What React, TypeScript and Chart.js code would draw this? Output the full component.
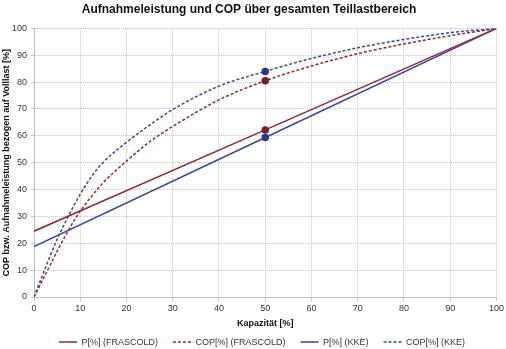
import React, { useEffect, useRef } from 'react';
import { Chart, registerables } from 'chart.js';

Chart.register(...registerables);

const FONT = "'Liberation Sans', Arial, sans-serif";

const TITLE = 'Aufnahmeleistung und COP über gesamten Teillastbereich';
const Y_TITLE = 'COP bzw. Aufnahmeleistung bezogen auf Volllast [%]';
const X_TITLE = 'Kapazität [%]';

const SERIES_NAMES = ['P[%] (FRASCOLD)', 'COP[%] (FRASCOLD)', 'P[%] (KKE)', 'COP[%] (KKE)'];

// P lines (straight)
const pCapacity = [0, 50, 100];
const pFrascold = [24.5, 62.2, 100];
const pKke = [18.8, 59.4, 100];

// COP curves
const copCapacity = [0, 2.5, 5, 7.5, 10, 12.5, 15, 20, 25, 30, 40, 50, 60, 70, 80, 90, 100];
const copFrascold = [0, 8.5, 17, 25, 32, 37.6, 42.6, 50.6, 57.8, 63.5, 73.4, 80.5, 86, 90.6, 94.2, 97.3, 100];
const copKke = [0, 11, 21.5, 30.3, 38.3, 45, 50.2, 57.6, 64, 69.8, 78.5, 84, 88.8, 92.8, 95.9, 98.4, 100];

const MARK_X = 50;

const RED = '#8E2C3E';
const RED_DOT = '#7A1E2E';
const BLUE = '#3B479C';
const BLUE_DOT = '#2A3A8A';

const toXY = (xs: number[], ys: number[]) => xs.map((x, i) => ({ x, y: ys[i] }));

const shiftLegend = {
  id: 'shiftLegend',
  afterLayout(chart: any) {
    const lg = chart.legend;
    if (!lg) return;
    const dx = 13;
    const dy = -6;
    lg.left += dx;
    lg.right += dx;
    lg.top += dy;
    lg.bottom += dy;
  },
};

export default function App() {
  const ref = useRef<HTMLCanvasElement>(null);

  useEffect(() => {
    if (!ref.current) return;
    const radius = (ctx: any) => (ctx.raw && ctx.raw.x === MARK_X ? 3 : 0);
    const chart = new Chart(ref.current, {
      type: 'line',
      data: {
        datasets: [
          {
            label: SERIES_NAMES[0],
            data: toXY(pCapacity, pFrascold),
            borderColor: RED,
            backgroundColor: RED_DOT,
            pointBackgroundColor: RED_DOT,
            pointBorderColor: RED_DOT,
            borderWidth: 1.5,
            pointRadius: radius,
            tension: 0,
          },
          {
            label: SERIES_NAMES[1],
            data: toXY(copCapacity, copFrascold),
            borderColor: RED,
            backgroundColor: RED_DOT,
            pointBackgroundColor: RED_DOT,
            pointBorderColor: RED_DOT,
            borderWidth: 1.5,
            borderDash: [3, 2],
            pointRadius: radius,
            cubicInterpolationMode: 'monotone',
          },
          {
            label: SERIES_NAMES[2],
            data: toXY(pCapacity, pKke),
            borderColor: BLUE,
            backgroundColor: BLUE_DOT,
            pointBackgroundColor: BLUE_DOT,
            pointBorderColor: BLUE_DOT,
            borderWidth: 1.5,
            pointRadius: radius,
            tension: 0,
          },
          {
            label: SERIES_NAMES[3],
            data: toXY(copCapacity, copKke),
            borderColor: BLUE,
            backgroundColor: BLUE_DOT,
            pointBackgroundColor: BLUE_DOT,
            pointBorderColor: BLUE_DOT,
            borderWidth: 1.5,
            borderDash: [3, 2],
            pointRadius: radius,
            cubicInterpolationMode: 'monotone',
          },
        ],
      },
      options: {
        animation: false,
        responsive: true,
        maintainAspectRatio: false,
        layout: { padding: { left: 0, right: 8, top: 0, bottom: -13.6 } },
        plugins: {
          title: {
            display: true,
            text: TITLE,
            color: '#111',
            font: { family: FONT, size: 12, weight: 'bold' },
            padding: { top: 2, bottom: 12 },
          },
          legend: {
            position: 'bottom',
            labels: {
              usePointStyle: true,
              pointStyle: 'line',
              pointStyleWidth: 18,
              color: '#333',
              font: { family: FONT, size: 9 },
              padding: 15,
              generateLabels: (chart: any) => {
                const items = Chart.defaults.plugins.legend.labels.generateLabels(chart);
                return items.map((it: any) => {
                  const ds = chart.data.datasets[it.datasetIndex];
                  return {
                    ...it,
                    lineDash: ds.borderDash || [],
                    strokeStyle: ds.borderColor,
                    lineWidth: 1.5,
                  };
                });
              },
            },
          },
          tooltip: { enabled: false },
        },
        scales: {
          x: {
            type: 'linear',
            min: 0,
            max: 100,
            ticks: {
              stepSize: 10,
              color: '#333',
              font: { family: FONT, size: 9 },
              padding: 2,
            },
            grid: {
              color: '#c4c4c4',
              lineWidth: 1,
              tickLength: 4,
              tickColor: '#bfbfbf',
            },
            border: { display: true, color: '#bfbfbf', width: 1, dash: [1, 1] },
            title: {
              display: true,
              text: X_TITLE,
              color: '#111',
              font: { family: FONT, size: 9, weight: 'bold' },
              padding: { top: 2, bottom: 0 },
            },
          },
          y: {
            type: 'linear',
            min: 0,
            max: 100,
            ticks: {
              stepSize: 10,
              color: '#333',
              font: { family: FONT, size: 9 },
              padding: 4,
            },
            grid: {
              color: '#c4c4c4',
              lineWidth: 1,
              tickLength: 3,
              tickColor: '#bfbfbf',
            },
            border: { display: true, color: '#bfbfbf', width: 1, dash: [1, 1] },
            title: {
              display: true,
              text: Y_TITLE,
              color: '#111',
              font: { family: FONT, size: 9, weight: 'bold' },
              padding: { top: 1, bottom: 2 },
            },
            afterFit: (scale: any) => {
              scale.width = 34;
            },
          },
        },
      },
      plugins: [shiftLegend],
    } as any);
    return () => chart.destroy();
  }, []);

  return (
    <div style={{ position: 'fixed', left: 0, top: 0, width: 506, height: 349, background: '#fff' }}>
      <canvas ref={ref} />
    </div>
  );
}
